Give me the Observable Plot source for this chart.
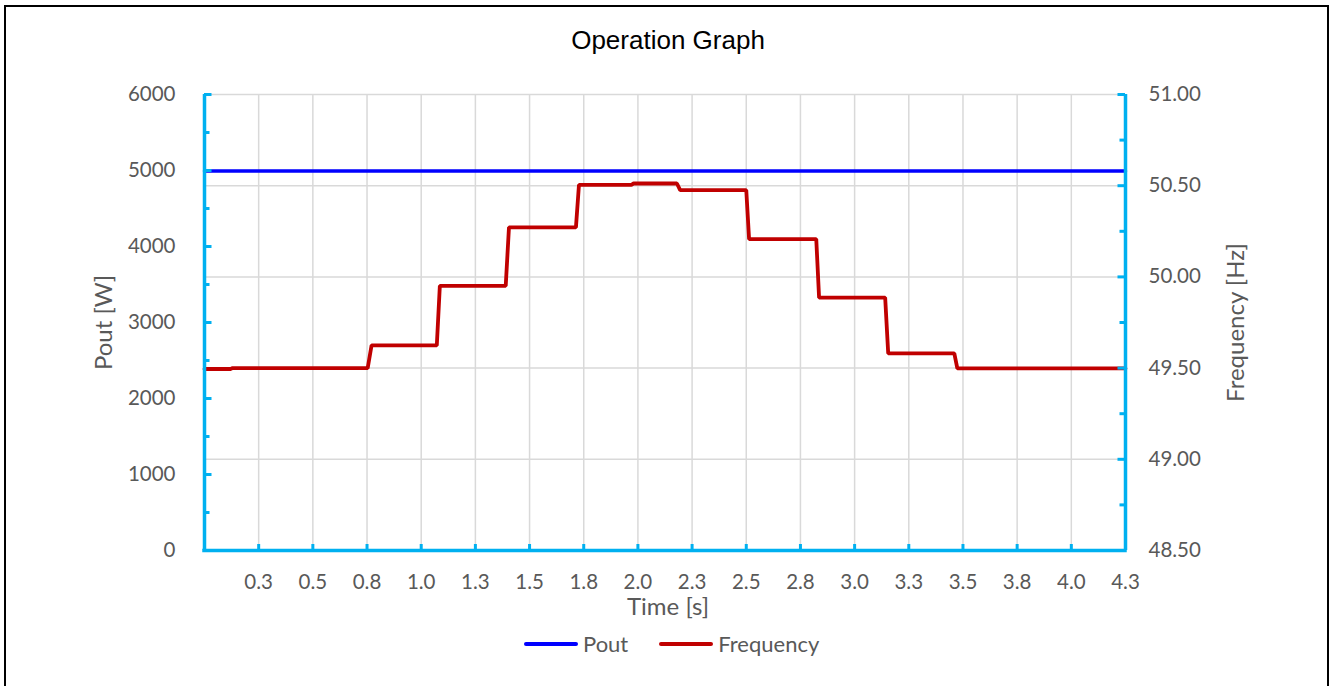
<!DOCTYPE html>
<html>
<head>
<meta charset="utf-8">
<script src="https://cdn.jsdelivr.net/npm/d3@7"></script>
<script src="https://cdn.jsdelivr.net/npm/@observablehq/plot@0.6"></script>
<style>
  html, body { margin: 0; padding: 0; background: #fff; overflow: hidden; }
  #wrap { position: relative; width: 1336px; height: 686px; }
  #frame { position: absolute; left: 4px; top: 5px; width: 1321px; height: 700px; border: 2.5px solid #000; box-sizing: content-box; pointer-events: none; }
  #legend { position: absolute; top: 630px; left: 524px; display: flex; align-items: center; font-family: Lato, "Open Sans", sans-serif; font-size: 22px; color: #595959; }
  #legend .sw { display: inline-block; width: 54px; height: 4px; border-radius: 2px; }
  #legend .lab { margin-left: 5px; }
</style>
</head>
<body>
<div id="wrap"><div id="chart"></div><div id="legend"></div><div id="frame"></div></div>
<script>
// ---- data ----
const titleText = "Operation Graph";
const seriesNames = ["Pout", "Frequency"];
const seriesColors = ["#0000ff", "#c00000"];

// Frequency [Hz] step trace (time s, value Hz)
const freqTime  = [0.00, 0.12, 0.13, 0.753, 0.771, 1.072, 1.086, 1.390, 1.405, 1.714, 1.728, 1.97, 1.98, 2.180, 2.195, 2.500, 2.513, 2.823, 2.836, 3.141, 3.155, 3.460, 3.474, 4.25];
const freqValue = [49.495, 49.495, 49.500, 49.500, 49.625, 49.625, 49.951, 49.951, 50.271, 50.271, 50.505, 50.505, 50.512, 50.512, 50.476, 50.476, 50.207, 50.207, 49.886, 49.886, 49.581, 49.581, 49.498, 49.498];

// Pout [W] trace (time s, value W)
const poutTime  = [0.00, 0.50, 1.00, 1.50, 2.00, 2.50, 3.00, 3.50, 4.00, 4.25];
const poutValue = [4994, 4995, 4994, 4995, 4995, 4995, 4994, 4995, 4994, 4994];

// axes
const timeTicks  = [0.25, 0.5, 0.75, 1.0, 1.25, 1.5, 1.75, 2.0, 2.25, 2.5, 2.75, 3.0, 3.25, 3.5, 3.75, 4.0, 4.25];
const timeLabels = ["0.3", "0.5", "0.8", "1.0", "1.3", "1.5", "1.8", "2.0", "2.3", "2.5", "2.8", "3.0", "3.3", "3.5", "3.8", "4.0", "4.3"];
const poutMajor  = [0, 1000, 2000, 3000, 4000, 5000, 6000];
const poutMinor  = [500, 1500, 2500, 3500, 4500, 5500];
const hzMajor    = [48.5, 49.0, 49.5, 50.0, 50.5, 51.0];
const hzMinor    = [48.75, 49.25, 49.75, 50.25, 50.75];
const hzLabels   = ["48.50", "49.00", "49.50", "50.00", "50.50", "51.00"];
const timeDomain = [0, 4.25];
const poutDomain = [0, 6000];
const hzDomain   = [48.5, 51];

// ---- build ----
const toHz = p => hzDomain[0] + (p - poutDomain[0]) * (hzDomain[1] - hzDomain[0]) / (poutDomain[1] - poutDomain[0]);
const freqData = freqTime.map((t, i) => ({t, v: freqValue[i]}));
const poutData = poutTime.map((t, i) => ({t, v: toHz(poutValue[i])}));
const cyan = "#00b0f0";
const grid = "#d9d9d9";
const fs = 20.5;
const fsTitle = 24;
const tx = (timeDomain[1] - timeDomain[0]) / 920;  // data units per pixel (x)
const ty = (hzDomain[1] - hzDomain[0]) / 456;      // data units per pixel (y)

const chart = Plot.plot({
  width: 1336,
  height: 686,
  marginLeft: 204,
  marginRight: 211,
  marginTop: 94,
  marginBottom: 136,
  style: {fontFamily: "Lato, 'Open Sans', sans-serif", color: "#595959", background: "transparent"},
  x: {domain: timeDomain, axis: null},
  y: {domain: hzDomain, axis: null},
  marks: [
    Plot.gridX(timeTicks.slice(0, -1), {stroke: grid, strokeOpacity: 1, strokeWidth: 1.5}),
    Plot.gridY(hzMajor.slice(1), {stroke: grid, strokeOpacity: 1, strokeWidth: 1.5}),
    Plot.line(poutData, {x: "t", y: "v", stroke: seriesColors[0], strokeWidth: 3.5}),
    Plot.line(freqData, {x: "t", y: "v", stroke: seriesColors[1], strokeWidth: 3.8, strokeLinejoin: "miter"}),
    // axis lines
    Plot.ruleX([timeDomain[0], timeDomain[1]], {stroke: cyan, strokeWidth: 3.5}),
    Plot.ruleY([hzDomain[0]], {stroke: cyan, strokeWidth: 3.5, strokeLinecap: "square"}),
    // inward ticks
    Plot.ruleY(poutMajor.map(toHz), {x1: timeDomain[0], x2: timeDomain[0] + 7.5 * tx, stroke: cyan, strokeWidth: 3}),
    Plot.ruleY(poutMinor.map(toHz), {x1: timeDomain[0], x2: timeDomain[0] + 5.5 * tx, stroke: cyan, strokeWidth: 3}),
    Plot.ruleY(hzMajor, {x1: timeDomain[1] - 7.5 * tx, x2: timeDomain[1], stroke: cyan, strokeWidth: 3}),
    Plot.ruleY(hzMinor, {x1: timeDomain[1] - 5.5 * tx, x2: timeDomain[1], stroke: cyan, strokeWidth: 3}),
    Plot.ruleX(timeTicks.slice(0, -1), {y1: hzDomain[0], y2: hzDomain[0] + 6 * ty, stroke: cyan, strokeWidth: 3}),
    // tick labels
    Plot.axisY(poutMajor.map(toHz), {anchor: "left", tickSize: 0, tickPadding: 29, fontSize: fs,
      tickFormat: d => String(poutMajor[poutMajor.map(toHz).indexOf(d)]), label: null}),
    Plot.axisY(hzMajor, {anchor: "right", tickSize: 0, tickPadding: 23, fontSize: fs,
      tickFormat: d => hzLabels[hzMajor.indexOf(d)], label: null}),
    Plot.axisX(timeTicks, {anchor: "bottom", tickSize: 0, tickPadding: 24, fontSize: fs,
      tickFormat: d => timeLabels[timeTicks.indexOf(d)], label: null}),
    // axis titles and chart title
    Plot.text(["Pout [W]"], {frameAnchor: "left", textAnchor: "middle", dx: -100, rotate: -90, fontSize: fsTitle, fill: "#595959"}),
    Plot.text(["Frequency [Hz]"], {frameAnchor: "right", textAnchor: "middle", dx: 111, rotate: -90, fontSize: fsTitle, fill: "#595959"}),
    Plot.text(["Time [s]"], {frameAnchor: "bottom", lineAnchor: "middle", dx: 3, dy: 57, fontSize: fsTitle, fill: "#595959"}),
    Plot.text([titleText], {frameAnchor: "top", lineAnchor: "middle", dx: 3, dy: -54, fontSize: 26, fill: "#000",
      fontFamily: "'Liberation Sans', Arial, sans-serif"})
  ]
});
document.getElementById("chart").appendChild(chart);

const legend = document.getElementById("legend");
seriesNames.forEach((name, i) => {
  const sw = document.createElement("span");
  sw.className = "sw";
  sw.style.background = seriesColors[i];
  if (i > 0) sw.style.marginLeft = "31px";
  const lab = document.createElement("span");
  lab.className = "lab";
  lab.textContent = name;
  legend.appendChild(sw);
  legend.appendChild(lab);
});
</script>
</body>
</html>
